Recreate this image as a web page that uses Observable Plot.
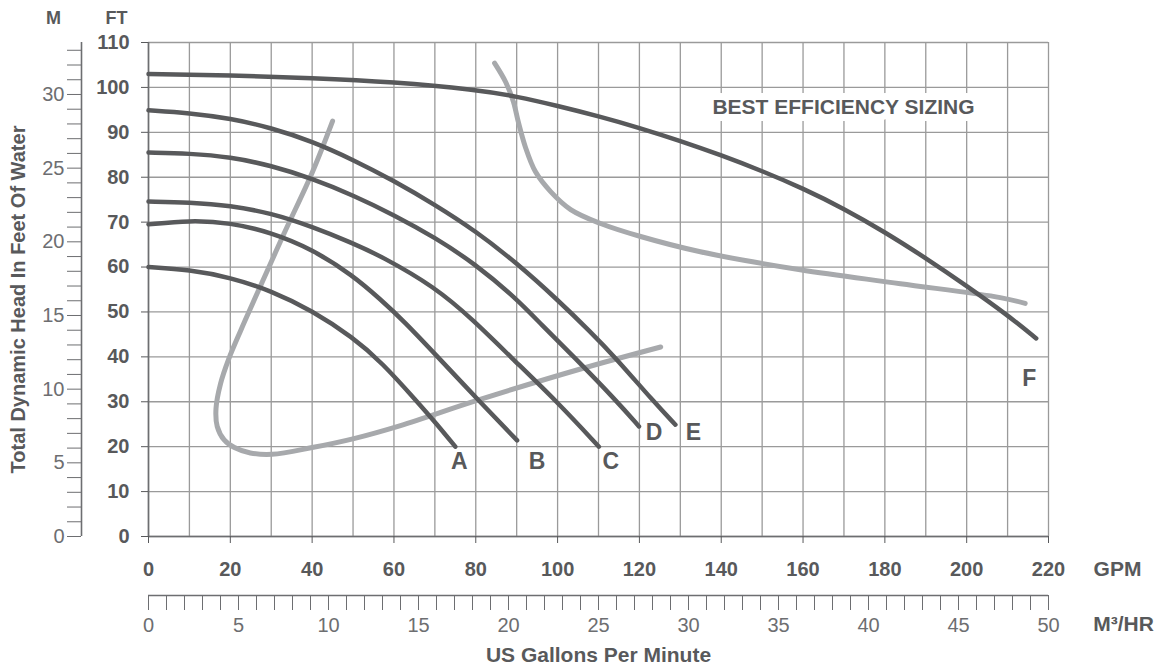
<!DOCTYPE html>
<html><head><meta charset="utf-8">
<script src="https://cdn.jsdelivr.net/npm/d3@7"></script>
<script src="https://cdn.jsdelivr.net/npm/@observablehq/plot@0.6"></script>
<style>
body{margin:0;background:#fff;overflow:hidden;}
#chart svg{display:block;}
</style></head><body><div id="chart"></div>
<script>
// ---- tick values ----
const gpmTicks = [0, 20, 40, 60, 80, 100, 120, 140, 160, 180, 200, 220];
const gpmGrid = [0, 10, 20, 30, 40, 50, 60, 70, 80, 90, 100, 110, 120, 130, 140, 150, 160, 170, 180, 190, 200, 210, 220];
const ftTicks = [0, 10, 20, 30, 40, 50, 60, 70, 80, 90, 100, 110];
const mTicks = d3.range(0, 34, 1);          // metres of head, tick every 1 m
const mLabels = [0, 5, 10, 15, 20, 25, 30];
const m3Ticks = d3.range(0, 51, 1);         // cubic metres per hour, tick every 1
const m3Labels = [0, 5, 10, 15, 20, 25, 30, 35, 40, 45, 50];
const FT_PER_M = 3.28084;
const GPM_PER_M3HR = 220 / 50;

// ---- pump curves (GPM, feet of head) ----
const gpmA = [0, 10, 20, 30, 40, 50, 57, 65.7, 70.5, 75];
const headA = [60, 59.4, 57.7, 54.7, 50.3, 44.3, 38.8, 30, 25, 20];
const gpmB = [0, 10, 20, 30, 40, 50, 56.7, 62.4, 70.7, 81, 90.1];
const headB = [69.5, 70.4, 69.9, 67.7, 64, 58.1, 52.8, 48, 40, 30, 21.4];
const gpmC = [0, 10, 20, 30, 40, 50, 56.7, 70, 79.5, 88.5, 99.9, 110.1];
const headC = [74.6, 74.4, 73.7, 72, 69, 65.3, 62.5, 55.6, 48.1, 40, 30, 20];
const gpmD = [0, 10, 20, 30, 40, 50, 60, 70, 80, 90, 96, 104, 114.6, 119.9];
const headD = [85.5, 85.3, 84.5, 82.6, 79.7, 76, 71.6, 66.6, 60.6, 52.9, 47.2, 40, 30, 24.5];
const gpmE = [0, 10, 20, 30, 40, 50, 60, 70, 80, 90, 100, 108, 114, 123.5, 128.8];
const headE = [94.9, 94.3, 93.1, 91, 88, 83.9, 79.2, 73.9, 68, 60.9, 52.7, 45.6, 40, 30, 24.9];
const gpmF = [0, 20, 40, 60, 80, 90, 100, 110, 120, 130, 140, 150, 160, 170, 180, 190, 200, 210, 217];
const headF = [103, 102.7, 102.1, 101.2, 99.5, 98, 95.9, 93.6, 91, 88.1, 84.9, 81.4, 77.5, 73, 67.8, 62, 55.8, 49.3, 44.1];

// ---- best efficiency sizing curves ----
const effLowGpm = [45, 40, 33.1, 26.6, 22.6, 19.6, 17.6, 16.5, 16.8, 18.5, 21, 24.9, 30.2, 40, 50.2, 61.6, 80.3, 105.6, 125.2];
const effLowFt = [92.5, 81, 67.4, 54.2, 46, 39.5, 34, 28.5, 24.5, 21.5, 19.8, 18.6, 18.3, 19.8, 21.8, 24.7, 30.3, 37.3, 42.2];
const effHighGpm = [84.6, 87.3, 89.2, 90.4, 92.1, 94.6, 98.3, 103.2, 110.5, 120.3, 134.9, 159.3, 183.8, 208.2, 214.3];
const effHighFt = [105.4, 101.2, 96.8, 92.3, 86.8, 81.2, 76.8, 72.8, 69.7, 66.8, 63.4, 59.4, 56.3, 53.2, 51.9];

const curveNames = ["A", "B", "C", "D", "E", "F"];
const curveGpm = [gpmA, gpmB, gpmC, gpmD, gpmE, gpmF];
const curveHead = [headA, headB, headC, headD, headE, headF];

const pumpRows = curveNames.flatMap((n, k) => curveGpm[k].map((g, i) => ({curve: n, gpm: g, head: curveHead[k][i]})));
const effRows = [
  ...effLowGpm.map((g, i) => ({curve: "low", gpm: g, head: effLowFt[i]})),
  ...effHighGpm.map((g, i) => ({curve: "high", gpm: g, head: effHighFt[i]}))
];
const endRows = curveNames.map((n, k) => ({curve: n, gpm: curveGpm[k][curveGpm[k].length - 1], head: curveHead[k][curveHead[k].length - 1]}));

// ---- styles ----
const DARK = "#58595b";
const LIGHT = "#6d6e71";
const GRID = "#9a9a9a";
const EFF = "#a7a9ac";
const FONT = "'Liberation Sans', Arial, sans-serif";
const labelOffset = {A: [4, 15], B: [20, 21], C: [12, 15], D: [15, 6], E: [18, 8], F: [-7, 40]};
const centered = {textAnchor: "middle", lineAnchor: "middle"};

const labelMarks = endRows.map(r => Plot.text([r], {
  x: "gpm", y: "head", text: "curve",
  dx: labelOffset[r.curve][0], dy: labelOffset[r.curve][1],
  fontSize: 23, fontWeight: "bold", fill: DARK
}));

const chart = Plot.plot({
  width: 1160, height: 668,
  marginLeft: 148, marginRight: 112, marginTop: 42, marginBottom: 132,
  style: {fontFamily: FONT, color: DARK, background: "white", overflow: "visible"},
  x: {domain: [0, 220], axis: null},
  y: {domain: [0, 110], axis: null},
  marks: [
    Plot.gridX(gpmGrid, {stroke: GRID, strokeOpacity: 1, strokeWidth: 1.3}),
    Plot.gridY(ftTicks, {stroke: GRID, strokeOpacity: 1, strokeWidth: 1.3}),
    Plot.ruleX([0], {stroke: LIGHT, strokeWidth: 1.6}),
    Plot.ruleY([0], {stroke: LIGHT, strokeWidth: 1.6}),
    // FT axis
    Plot.axisY(ftTicks, {anchor: "left", label: null, tickSize: 7, tickPadding: 12, fontSize: 20, fontWeight: "bold", color: DARK}),
    // GPM axis
    Plot.axisX(gpmTicks, {anchor: "bottom", label: null, tickSize: 7, tickPadding: 18, fontSize: 20, fontWeight: "bold", color: DARK}),
    // metres axis
    Plot.ruleX([0], {y1: 0, y2: 110, dx: -67, stroke: LIGHT, strokeWidth: 1.6}),
    Plot.axisY(mTicks.map(m => m * FT_PER_M), {
      anchor: "left", label: null, dx: -67, tickSize: 14, tickPadding: 3, fontSize: 20, color: LIGHT,
      tickFormat: d => { const m = Math.round(d / FT_PER_M); return mLabels.includes(m) ? String(m) : ""; }
    }),
    // m3/hr axis
    Plot.ruleY([0], {x1: 0, x2: 220, dy: 59, stroke: LIGHT, strokeWidth: 1.6}),
    Plot.axisX(m3Ticks.map(v => v * GPM_PER_M3HR), {
      anchor: "bottom", label: null, dy: 59, tickSize: 15, tickPadding: 7, fontSize: 20, color: LIGHT,
      tickFormat: d => { const v = Math.round(d / GPM_PER_M3HR); return m3Labels.includes(v) ? String(v) : ""; }
    }),
    // curves
    Plot.line(effRows, {x: "gpm", y: "head", z: "curve", stroke: EFF, strokeWidth: 5, curve: "catmull-rom"}),
    Plot.line(pumpRows, {x: "gpm", y: "head", z: "curve", stroke: DARK, strokeWidth: 4.5, curve: "basis"}),
    ...labelMarks,
    Plot.text(["BEST EFFICIENCY SIZING"], {...centered, text: d => d, frameAnchor: "top-right", dx: -205, dy: 65, fontSize: 21, fontWeight: "bold", fill: DARK, stroke: "white", strokeWidth: 14, paintOrder: "stroke"}),
    // axis titles
    Plot.text(["GPM"], {...centered, text: d => d, frameAnchor: "bottom-right", dx: 69, dy: 33, fontSize: 21, fontWeight: "bold", fill: DARK}),
    Plot.text(["M³/HR"], {...centered, text: d => d, frameAnchor: "bottom-right", dx: 75, dy: 88, fontSize: 21, fontWeight: "bold", fill: DARK}),
    Plot.text(["US Gallons Per Minute"], {...centered, text: d => d, frameAnchor: "bottom", dy: 119, fontSize: 21, fontWeight: "bold", fill: DARK}),
    Plot.text(["Total Dynamic Head In Feet Of Water"], {...centered, text: d => d, frameAnchor: "left", rotate: -90, dx: -130, dy: 10, fontSize: 20, fontWeight: "bold", fill: DARK}),
    Plot.text(["M"], {...centered, text: d => d, frameAnchor: "top-left", dx: -95, dy: -24, fontSize: 18, fontWeight: "bold", fill: DARK}),
    Plot.text(["FT"], {...centered, text: d => d, frameAnchor: "top-left", dx: -32, dy: -24, fontSize: 18, fontWeight: "bold", fill: DARK})
  ]
});
document.getElementById("chart").appendChild(chart);
</script>
</body></html>
